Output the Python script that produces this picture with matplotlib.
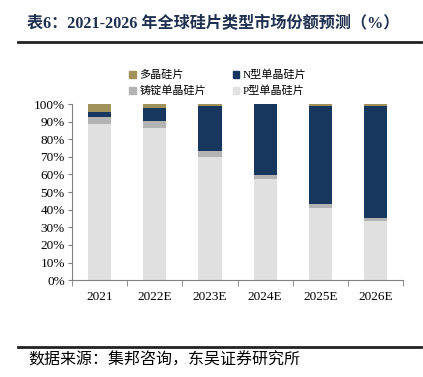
import matplotlib.pyplot as plt
from matplotlib.lines import Line2D
from matplotlib.patches import Patch
import numpy as np

plt.rcParams['font.family'] = ['Liberation Serif', 'Noto Sans CJK SC']

years = ['2021', '2022E', '2023E', '2024E', '2025E', '2026E']
p_mono = [88.5, 86.5, 70.0, 57.5, 41.0, 33.5]
cast_mono = [4.0, 4.0, 3.5, 2.0, 2.0, 1.5]
n_mono = [3.0, 7.5, 25.5, 40.5, 56.0, 64.0]
poly = [4.5, 2.0, 1.0, 0.0, 1.0, 1.0]

colors = {'poly': '#a0925a', 'n': '#17375e', 'cast': '#b3b3b3', 'p': '#e0e0e0'}

fig = plt.figure(figsize=(4.23, 3.77), dpi=100)
ax = fig.add_axes([0.170, 0.257, 0.783, 0.467])

x = np.arange(len(years))
w = 0.42
b = np.zeros(len(years))
ax.bar(x, p_mono, w, bottom=b, color=colors['p'])
b += p_mono
ax.bar(x, cast_mono, w, bottom=b, color=colors['cast'])
b += cast_mono
ax.bar(x, n_mono, w, bottom=b, color=colors['n'])
b += n_mono
ax.bar(x, poly, w, bottom=b, color=colors['poly'])

ax.set_xlim(-0.5, len(years) - 0.5)
ax.set_ylim(0, 100)
ax.set_yticks(range(0, 101, 10))
ax.set_yticklabels([f'{v}%' for v in range(0, 101, 10)], fontsize=9.5)
ax.set_xticks(x)
ax.set_xticklabels(years, fontsize=9.5)
ax.set_xticks(np.arange(-0.5, len(years)), minor=True)
ax.tick_params(axis='x', which='major', length=0, pad=8)
ax.tick_params(axis='x', which='minor', length=4, color='#808080', direction='out')
ax.tick_params(axis='y', length=3, color='#808080', pad=2)
for s in ['top', 'right']:
    ax.spines[s].set_visible(False)
ax.spines['left'].set_color('#808080')
ax.spines['bottom'].set_color('#808080')

# column-major fill: left column poly / cast, right column N / P
handles = [Patch(color=colors['poly']), Patch(color=colors['cast']),
           Patch(color=colors['n']), Patch(color=colors['p'])]
labels = ['多晶硅片', '铸锭单晶硅片', 'N型单晶硅片', 'P型单晶硅片']
fig.legend(handles, labels, ncol=2, loc='center', bbox_to_anchor=(0.515, 0.78),
           frameon=False, fontsize=8, handlelength=0.6, handleheight=0.6,
           handletextpad=0.3, columnspacing=2.4, labelspacing=0.5)

fig.text(0.064, 0.935, '表6：2021-2026 年全球硅片类型市场份额预测（%）', fontsize=11.6,
         fontweight='bold', color='#1f3050', va='center')
fig.add_artist(Line2D([0.043, 0.995], [0.889, 0.889], color='#222222', lw=2))
fig.add_artist(Line2D([0.043, 0.995], [0.080, 0.080], color='#222222', lw=2))
fig.text(0.066, 0.045, '数据来源：集邦咨询，东吴证券研究所', fontsize=11.5, va='center')

fig.savefig('out.png', dpi=100)
